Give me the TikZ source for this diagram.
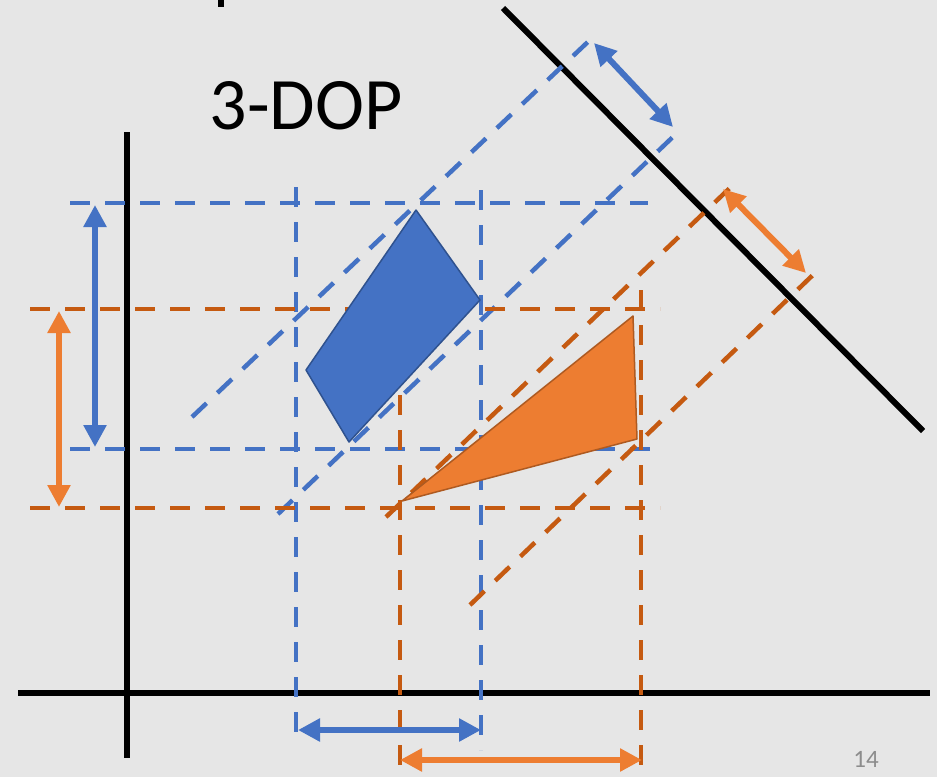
\documentclass[tikz,border=0pt]{standalone}
\usepackage{fontspec}
\setmainfont{Carlito}
\usetikzlibrary{arrows.meta}
\definecolor{bg}{HTML}{E6E6E6}
\definecolor{bluef}{HTML}{4472C4}
\definecolor{blued}{HTML}{2F528F}
\definecolor{orangef}{HTML}{ED7D31}
\definecolor{oranged}{HTML}{AE5A21}
\definecolor{orangel}{HTML}{C55A11}
\definecolor{pnum}{HTML}{8C8C8C}
\tikzset{
  axisline/.style={line width=6pt, black},
  bdash/.style={line width=4.5pt, bluef, dash pattern=on 20pt off 15pt},
  odash/.style={line width=4.5pt, orangel, dash pattern=on 20pt off 15pt},
  barrow/.style={line width=6pt, bluef, {Triangle[width=22pt,length=22pt]}-{Triangle[width=22pt,length=22pt]}},
  oarrow/.style={line width=6pt, orangef, {Triangle[width=22pt,length=22pt]}-{Triangle[width=22pt,length=22pt]}},
}
\begin{document}
\begin{tikzpicture}[x=1pt,y=-1pt]
\fill[bg] (0,0) rectangle (937,777);
\useasboundingbox (0,0) rectangle (937,777);

% axes
\draw[line width=6pt] (220.5,0) -- (220.5,7);
\draw[axisline] (127,132) -- (127,758);
\draw[axisline] (18,693) -- (930,693);
\draw[axisline] (503,8) -- (923,431);

% blue dashed lines
\draw[bdash] (70,203) -- (648,203);
\draw[bdash] (70,449) -- (660,449);
\draw[bdash] (296,187) -- (296,745);
\draw[bdash] (481,190) -- (481,750);
\draw[bdash] (192,417) -- (592,38);
\draw[bdash] (278,514) -- (677,133);

% orange dashed lines
\draw[odash] (30,309) -- (660,309);
\draw[odash] (30,508) -- (660,508);
\draw[odash] (400,395) -- (400,777);
\draw[odash] (641,290) -- (641,777);
\draw[odash] (386,517) -- (734,184);
\draw[odash] (470,605) -- (816,272);

% shapes
\draw[fill=bluef, draw=blued, line width=1.5pt, line join=round]
  (416,210) -- (480,300) -- (349,442) -- (306,370) -- cycle;
\draw[fill=orangef, draw=oranged, line width=1.5pt, line join=round]
  (633,316) -- (637,439) -- (402,501) -- cycle;

% arrows
\coordinate (bv1) at (95,205); \coordinate (bv2) at (95,447);
\coordinate (ov1) at (59,311); \coordinate (ov2) at (59,507);
\coordinate (bh1) at (298,730); \coordinate (bh2) at (481,730);
\coordinate (oh1) at (400,760); \coordinate (oh2) at (642,760);
\coordinate (bd1) at (594,43); \coordinate (bd2) at (673,127);
\coordinate (od1) at (723,189); \coordinate (od2) at (806,273);
\draw[barrow] (bv1) -- (bv2);
\draw[oarrow] (ov1) -- (ov2);
\draw[barrow] (bh1) -- (bh2);
\draw[oarrow] (oh1) -- (oh2);
\draw[barrow] (bd1) -- (bd2);
\draw[oarrow] (od1) -- (od2);

% texts
\node[font=\fontsize{74}{88}\selectfont, inner sep=0pt] (title) at (306,106) {3-DOP};
\node[font=\fontsize{25}{30}\selectfont, text=pnum, inner sep=0pt] (pg) at (866,759) {14};
\end{tikzpicture}
\end{document}
